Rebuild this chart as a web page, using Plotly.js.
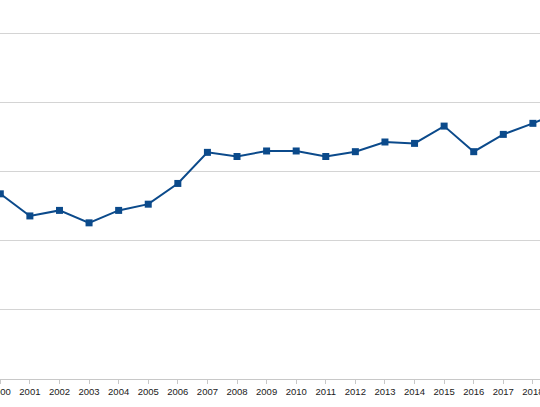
<!DOCTYPE html>
<html>
<head>
<meta charset="utf-8">
<script src="https://cdn.plot.ly/plotly-3.0.1.min.js"></script>
<style>
  html, body { margin: 0; padding: 0; background: #fff; }
  #chart { width: 540px; height: 407px; }
</style>
</head>
<body>
<div id="chart"></div>
<script>
// values (y axis labels are cut off in the reference)
var years = [2000, 2001, 2002, 2003, 2004, 2005, 2006, 2007, 2008, 2009,
             2010, 2011, 2012, 2013, 2014, 2015, 2016, 2017, 2018, 2019];
var values = [26.8, 23.6, 24.4, 22.6, 24.4, 25.3, 28.3, 32.8, 32.2, 33.0,
              33.0, 32.2, 32.9, 34.3, 34.1, 36.6, 32.9, 35.4, 37.0, 38.8];
var tickYears = years.slice(0, 19);
var tickLabels = tickYears.map(String);

var series = {
  type: "scatter",
  mode: "lines+markers",
  x: years,
  y: values,
  line: {color: "#0b4a8b", width: 2},
  marker: {symbol: "square", size: 7, color: "#0b4a8b"},
  cliponaxis: false,
  showlegend: false,
  hoverinfo: "x+y"
};

var layout = {
  width: 540,
  height: 407,
  margin: {l: 0, r: 0, t: 0, b: 28, pad: 0},
  paper_bgcolor: "#fff",
  plot_bgcolor: "#fff",
  font: {family: "Liberation Sans, Arial, sans-serif", size: 9.5, color: "#1a1a1a"},
  xaxis: {
    range: [1999.99, 2018.24],
    tickvals: tickYears,
    ticktext: tickLabels,
    ticklabeloverflow: "allow",
    showgrid: false,
    zeroline: false,
    showline: true,
    linecolor: "#c8c8c8",
    linewidth: 1,
    ticks: "outside",
    ticklen: 4,
    tickcolor: "#c8c8c8",
    fixedrange: true
  },
  yaxis: {
    range: [0, 54.85],
    dtick: 10,
    tick0: 0,
    showgrid: true,
    gridcolor: "#d4d4d4",
    gridwidth: 1,
    zeroline: false,
    showticklabels: false,
    fixedrange: true
  }
};

Plotly.newPlot("chart", [series], layout, {displayModeBar: false, staticPlot: true});
</script>
</body>
</html>
